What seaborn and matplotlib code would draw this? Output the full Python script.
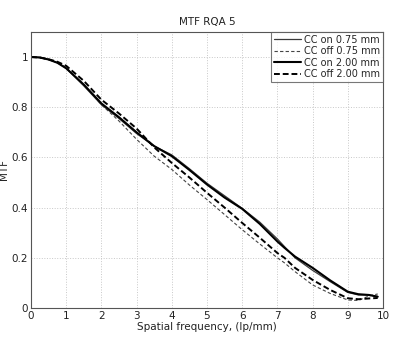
import numpy as np
import pandas as pd
import matplotlib
matplotlib.use("Agg")
import matplotlib.pyplot as plt
import seaborn as sns

freq = [0, 0.25, 0.5, 0.75, 1, 1.5, 2, 2.5, 3, 3.5, 4, 4.5, 5, 5.5, 6, 6.5, 7, 7.2, 7.5, 8, 8.5, 9, 9.3, 9.6, 9.85]
cc_on_075 = [1.0, 0.998, 0.99, 0.977, 0.955, 0.885, 0.81, 0.755, 0.695, 0.645, 0.61, 0.555, 0.497, 0.447, 0.397, 0.342, 0.275, 0.245, 0.2, 0.15, 0.105, 0.062, 0.052, 0.052, 0.046]
cc_off_075 = [1.0, 0.998, 0.99, 0.978, 0.958, 0.89, 0.81, 0.745, 0.672, 0.605, 0.552, 0.49, 0.432, 0.372, 0.312, 0.255, 0.2, 0.18, 0.145, 0.092, 0.058, 0.032, 0.03, 0.048, 0.056]
cc_on_200 = [1.0, 0.998, 0.99, 0.977, 0.955, 0.89, 0.815, 0.76, 0.70, 0.645, 0.605, 0.55, 0.492, 0.44, 0.395, 0.335, 0.265, 0.24, 0.205, 0.16, 0.11, 0.065, 0.055, 0.052, 0.045]
cc_off_200 = [1.0, 0.998, 0.991, 0.981, 0.965, 0.905, 0.83, 0.775, 0.715, 0.64, 0.578, 0.52, 0.459, 0.40, 0.339, 0.28, 0.219, 0.2, 0.16, 0.112, 0.072, 0.039, 0.035, 0.038, 0.04]

series_names = ["CC on 0.75 mm", "CC off 0.75 mm", "CC on 2.00 mm", "CC off 2.00 mm"]
series_vals = [cc_on_075, cc_off_075, cc_on_200, cc_off_200]

xticks = [0, 1, 2, 3, 4, 5, 6, 7, 8, 9, 10]
yticks = [0, 0.2, 0.4, 0.6, 0.8, 1.0]
ytick_labels = ["0", "0.2", "0.4", "0.6", "0.8", "1"]

sns.set_theme(style="white")
plt.rcParams['font.family'] = ['DejaVu Sans']

fig = plt.figure(figsize=(4.0, 3.43), dpi=100)
ax = fig.add_axes([0.0775, 0.102, 0.88, 0.805])

styles = [
    dict(color="#3a3a3a", lw=0.9, ls="-"),
    dict(color="#444444", lw=0.8, ls=(0, (3, 2))),
    dict(color="#000000", lw=1.5, ls="-"),
    dict(color="#000000", lw=1.4, ls=(0, (3, 1.5))),
]

for name, vals, st in zip(series_names, series_vals, styles):
    df = pd.DataFrame({"freq": freq, "mtf": vals})
    sns.lineplot(data=df, x="freq", y="mtf", ax=ax, label=name,
                 color=st["color"], linewidth=st["lw"], linestyle=st["ls"])

ax.set_xlim(0, 10)
ax.set_ylim(0, 1.1)
ax.set_xticks(xticks)
ax.set_xticklabels([str(t) for t in xticks])
ax.set_yticks(yticks)
ax.set_yticklabels(ytick_labels)
ax.grid(True, color="#c8c8c8", linestyle=":", linewidth=0.7)
ax.tick_params(direction="in", length=3, labelsize=7.5, colors="#222222", pad=2)
for s in ax.spines.values():
    s.set_color("#555555")
    s.set_linewidth(0.8)

ax.set_title("MTF RQA 5", fontsize=7.5, pad=5, color="#222222")
ax.set_xlabel("Spatial frequency, (lp/mm)", fontsize=7.5, labelpad=1, color="#222222")
ax.set_ylabel("MTF", fontsize=7.5, labelpad=2, color="#222222")

leg = ax.legend(loc="upper right", fontsize=7, frameon=True, fancybox=False,
                handlelength=2.8, handletextpad=0.3, borderpad=0.3, labelspacing=0.15,
                borderaxespad=0.0)
leg.get_frame().set_edgecolor("#555555")
leg.get_frame().set_linewidth(0.8)

fig.savefig("out.png", dpi=100)
